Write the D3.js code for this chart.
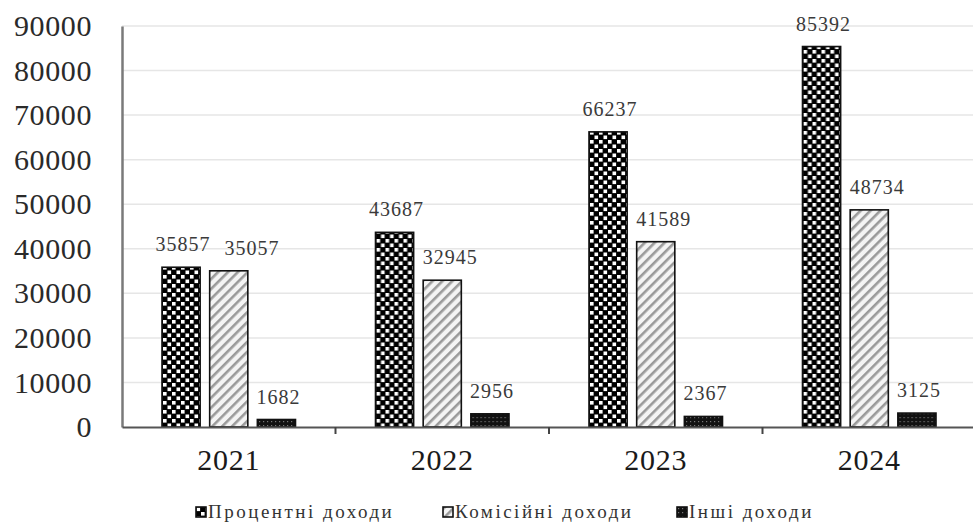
<!DOCTYPE html>
<html>
<head>
<meta charset="utf-8">
<script src="https://cdn.jsdelivr.net/npm/d3@7/dist/d3.min.js"></script>
<style>
  html, body { margin: 0; padding: 0; background: #fff; }
  svg { display: block; }
  text { font-family: "Liberation Serif", "Times New Roman", serif; }
</style>
</head>
<body>
<svg id="chart" width="973" height="524"></svg>
<script>
// Bank income by type, 2021–2024
const years = ["2021", "2022", "2023", "2024"];
const seriesNames = ["Процентні доходи", "Комісійні доходи", "Інші доходи"];
const interestIncome = [35857, 43687, 66237, 85392];
const commissionIncome = [35057, 32945, 41589, 48734];
const otherIncome = [1682, 2956, 2367, 3125];
const yTicks = [0, 10000, 20000, 30000, 40000, 50000, 60000, 70000, 80000, 90000];

const seriesValues = [interestIncome, commissionIncome, otherIncome];
const patternIds = ["pat-checker", "pat-diag", "pat-dots"];

const svg = d3.select("#chart");
const W = 973, H = 524;
const plot = { left: 122, right: 976, top: 26, bottom: 427 };

// --- fill patterns ---
const defs = svg.append("defs");

const checker = defs.append("pattern")
  .attr("id", "pat-checker").attr("patternUnits", "userSpaceOnUse")
  .attr("width", 9).attr("height", 9);
checker.append("rect").attr("width", 9).attr("height", 9).attr("fill", "#000");
checker.append("rect").attr("x", 0.5).attr("y", 0.5).attr("width", 3.6).attr("height", 3.6).attr("fill", "#fff");
checker.append("rect").attr("x", 5).attr("y", 5).attr("width", 3.6).attr("height", 3.6).attr("fill", "#fff");

const diag = defs.append("pattern")
  .attr("id", "pat-diag").attr("patternUnits", "userSpaceOnUse")
  .attr("width", 7).attr("height", 7)
  .attr("patternTransform", "rotate(45)");
diag.append("rect").attr("width", 7).attr("height", 7).attr("fill", "#f4f4f4");
diag.append("rect").attr("x", 0).attr("y", 0).attr("width", 2.6).attr("height", 7).attr("fill", "#9a9a9a");

const dots = defs.append("pattern")
  .attr("id", "pat-dots").attr("patternUnits", "userSpaceOnUse")
  .attr("width", 4).attr("height", 4);
dots.append("rect").attr("width", 4).attr("height", 4).attr("fill", "#111");
dots.append("rect").attr("x", 1).attr("y", 1).attr("width", 1.2).attr("height", 1.2).attr("fill", "#777");

// --- scales ---
const x0 = d3.scaleBand().domain(years).range([plot.left, plot.right]);
const x1 = d3.scaleBand().domain(d3.range(seriesNames.length))
  .range([40, x0.bandwidth() - 40]).paddingInner(0.2);
const y = d3.scaleLinear().domain([0, 90000]).range([plot.bottom, plot.top]);

// --- gridlines ---
svg.append("g")
  .selectAll("line").data(yTicks.filter(d => d > 0)).join("line")
  .attr("x1", plot.left).attr("x2", W)
  .attr("y1", d => y(d)).attr("y2", d => y(d))
  .attr("stroke", "#e6e6e6").attr("stroke-width", 1.5);

// --- y axis ---
const yAxis = svg.append("g")
  .attr("transform", `translate(${plot.left},0)`)
  .call(d3.axisLeft(y).tickValues(yTicks).tickSize(0).tickPadding(30).tickFormat(d3.format("d")));
yAxis.select(".domain").attr("stroke", "#7a7a7a").attr("stroke-width", 2.5);
yAxis.selectAll("text")
  .attr("font-size", 30).attr("fill", "#2a2a2a")
  .style("letter-spacing", "0.6px");

// --- bars ---
const groups = svg.append("g").selectAll("g").data(years).join("g")
  .attr("transform", d => `translate(${x0(d)},0)`);

groups.selectAll("rect")
  .data((yr, i) => seriesValues.map((vals, s) => ({ s, v: vals[i] })))
  .join("rect")
  .attr("x", d => x1(d.s))
  .attr("y", d => y(d.v))
  .attr("width", x1.bandwidth())
  .attr("height", d => y(0) - y(d.v))
  .attr("fill", d => `url(#${patternIds[d.s]})`)
  .attr("stroke", "#111").attr("stroke-width", 1.6);

// --- x axis ---
const xAxis = svg.append("g")
  .attr("transform", `translate(0,${plot.bottom})`)
  .call(d3.axisBottom(x0).tickSize(0).tickPadding(22));
xAxis.select(".domain").attr("stroke", "#555").attr("stroke-width", 2);
xAxis.selectAll("text")
  .attr("font-size", 30).attr("fill", "#1a1a1a")
  .style("letter-spacing", "0.8px");

// category separators below the axis
svg.append("g").selectAll("line")
  .data(years.slice(1)).join("line")
  .attr("x1", d => x0(d)).attr("x2", d => x0(d))
  .attr("y1", plot.bottom).attr("y2", plot.bottom + 7)
  .attr("stroke", "#444").attr("stroke-width", 2);

// --- value labels (pushed right when they would collide) ---
const labelData = [];
years.forEach((yr, i) => {
  seriesValues.forEach((vals, s) => {
    labelData.push({ s, cx: x0(yr) + x1(s) + x1.bandwidth() / 2, v: vals[i] });
  });
});
const labels = svg.append("g").selectAll("text").data(labelData).join("text")
  .attr("x", d => d.cx + (d.s === 1 ? 8 : 2))
  .attr("y", d => y(d.v) - 16)
  .attr("text-anchor", "middle")
  .attr("font-size", 20)
  .attr("fill", "#3a3a3a")
  .style("letter-spacing", "1px")
  .text(d => d.v);

let prevBox = null;
labels.each(function () {
  const b = this.getBBox();
  if (prevBox && b.x < prevBox.x + prevBox.width + 12 &&
      Math.abs(b.y - prevBox.y) < b.height) {
    const shift = prevBox.x + prevBox.width + 14 - b.x;
    d3.select(this).attr("x", +d3.select(this).attr("x") + shift);
  }
  prevBox = this.getBBox();
});

// --- legend ---
const legendX = [196, 443, 677];
const legend = svg.append("g").selectAll("g").data(seriesNames).join("g")
  .attr("transform", (d, i) => `translate(${legendX[i]},507)`);
legend.append("rect")
  .attr("width", 10).attr("height", 10)
  .attr("fill", (d, i) => `url(#${patternIds[i]})`)
  .attr("stroke", "#111").attr("stroke-width", 1.6);
legend.append("text")
  .attr("x", 12).attr("y", 10.5)
  .attr("font-size", 19)
  .attr("fill", "#333")
  .style("letter-spacing", "2.5px")
  .text(d => d);
</script>
</body>
</html>
